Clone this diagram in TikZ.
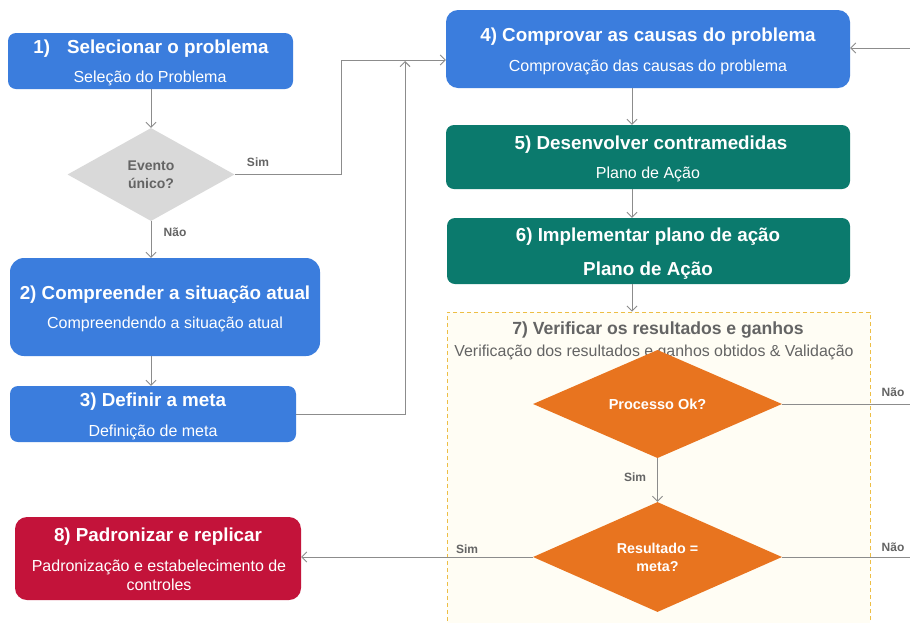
\documentclass[tikz,border=0pt]{standalone}
\usepackage{fontspec}
\setmainfont{Liberation Sans}
\usetikzlibrary{shapes.geometric,arrows.meta}
\definecolor{bluebox}{HTML}{3B7DDD}
\definecolor{tealbox}{HTML}{0B7A6D}
\definecolor{redbox}{HTML}{C3133A}
\definecolor{orangedia}{HTML}{E8741F}
\definecolor{graydia}{HTML}{D9D9D9}
\definecolor{linegray}{HTML}{8C8C8C}
\definecolor{txtgray}{HTML}{646464}
\definecolor{framecol}{HTML}{EDBE45}
\definecolor{framefill}{HTML}{FFFDF4}
\begin{document}
\begin{tikzpicture}[x=1pt,y=-1pt,
  boxnode/.style={rectangle, rounded corners=8pt, draw=none, inner sep=0pt},
  ttl/.style={text=white, font=\bfseries\fontsize{18.8}{21}\selectfont, inner sep=0pt, anchor=base},
  sub/.style={text=white, font=\fontsize{16}{18}\selectfont, inner sep=0pt, anchor=base},
  lbl/.style={text=txtgray, font=\bfseries\fontsize{12}{14}\selectfont, inner sep=0pt},
  dia/.style={diamond, draw=none, inner sep=0pt, align=center},
  conn/.style={draw=linegray, line width=0.9pt, -{Straight Barb[length=5pt,width=10pt]}},
  plain/.style={draw=linegray, line width=0.9pt}
]
\clip (0,0) rectangle (910,622);
\fill[white] (0,0) rectangle (910,622);

% frame for step 7
\node[rectangle, draw=framecol, fill=framefill, dash pattern=on 4pt off 3pt, line width=0.9pt,
      minimum width=423pt, minimum height=340pt, inner sep=0pt] (f7) at (658.5,482) {};

% boxes
\node[boxnode, fill=bluebox, minimum width=285pt, minimum height=56pt] (b1) at (150.5,61) {};
\node[boxnode, fill=bluebox, rounded corners=14pt, minimum width=310pt, minimum height=98pt] (b2) at (165,307) {};
\node[boxnode, fill=bluebox, minimum width=286pt, minimum height=56pt] (b3) at (153,414) {};
\node[boxnode, fill=bluebox, rounded corners=12pt, minimum width=404pt, minimum height=78pt] (b4) at (648,49) {};
\node[boxnode, fill=tealbox, minimum width=404pt, minimum height=64pt] (b5) at (648,157) {};
\node[boxnode, fill=tealbox, minimum width=403pt, minimum height=66pt] (b6) at (648.5,251) {};
\node[boxnode, fill=redbox, rounded corners=12pt, minimum width=286pt, minimum height=83pt] (b8) at (158,558.5) {};

% texts in boxes (base anchors)
\node[ttl] (t1) at (151,53.7) {1)\hspace{17pt}Selecionar o problema};
\node[sub] (s1) at (150,82.7) {Seleção do Problema};
\node[ttl] (t2) at (165,299.7) {2) Compreender a situação atual};
\node[sub] (s2) at (165,328.7) {Compreendendo a situação atual};
\node[ttl] (t3) at (153,406.7) {3) Definir a meta};
\node[sub] (s3) at (153,436.7) {Definição de meta};
\node[ttl] (t4) at (648,41.7) {4) Comprovar as causas do problema};
\node[sub] (s4) at (648,71.7) {Comprovação das causas do problema};
\node[ttl] (t5) at (651,149.7) {5) Desenvolver contramedidas};
\node[sub] (s5) at (648,178.7) {Plano de Ação};
\node[ttl] (t6) at (648,241.7) {6) Implementar plano de ação};
\node[ttl] (s6) at (648,275.7) {Plano de Ação};
\node[ttl, text=txtgray, font=\bfseries\fontsize{17.6}{20}\selectfont] (t7) at (658,334.3) {7) Verificar os resultados e ganhos};
\node[sub, text=txtgray, font=\fontsize{15.9}{17}\selectfont] (s7) at (654,356.7) {Verificação dos resultados e ganhos obtidos \& Validação};
\node[ttl] (t8) at (158,541.7) {8) Padronizar e replicar};
\node[sub, anchor=center, align=center, font=\fontsize{16}{19}\selectfont] (s8) at (159,575.5) {Padronização e estabelecimento de\\controles};

% diamonds
\node[dia, fill=graydia, minimum width=167pt, minimum height=93pt, text=txtgray,
      font=\bfseries\fontsize{14}{18}\selectfont] (ev) at (151,174.5) {Evento\\único?};
\node[dia, fill=orangedia, minimum width=249pt, minimum height=72pt, text=white,
      font=\bfseries\fontsize{14.5}{18}\selectfont] (d1) at (657.5,404) {Processo Ok?};
\node[dia, fill=orangedia, minimum width=249pt, minimum height=90pt, text=white,
      font=\bfseries\fontsize{14.3}{18}\selectfont] (d2) at (657.5,557) {Resultado =\\meta?};

% helper coordinates
\coordinate (ax) at (632,0);
\coordinate (ay) at (151,0);
\coordinate (j1) at (341,60);
\coordinate (j2) at (405,61);
\coordinate (r4) at (912,48);
\coordinate (r1) at (912,404);
\coordinate (r2) at (912,557);

% connectors
\draw[conn] (b1.south -| ay) -- (ev.north);
\draw[plain] (ev.east) -| (j1);
\draw[conn] (j1) -- (b4.west |- j1);
\draw[conn] (ev.south) -- (b2.north -| ay);
\draw[conn] (b2.south -| ay) -- (b3.north -| ay);
\draw[conn] (b3.east) -| (j2);
\draw[conn] (b4.south -| ax) -- (b5.north -| ax);
\draw[conn] (b5.south -| ax) -- (b6.north -| ax);
\draw[conn] (b6.south -| ax) -- (f7.north -| ax);
\draw[conn] (r4) -- (b4.east |- r4);
\draw[plain] (d1.east) -- (r1);
\draw[conn] (d1.south) -- (d2.north);
\draw[plain] (d2.east) -- (r2);
\draw[conn] (d2.west) -- (b8.east |- d2.west);

% labels
\node[lbl] (lsim1) at (258,162) {Sim};
\node[lbl] (lnao1) at (175,232) {Não};
\node[lbl] (lnao2) at (893,392) {Não};
\node[lbl] (lsim2) at (635,477) {Sim};
\node[lbl] (lnao3) at (893,547) {Não};
\node[lbl] (lsim3) at (467,549) {Sim};
\end{tikzpicture}
\end{document}
